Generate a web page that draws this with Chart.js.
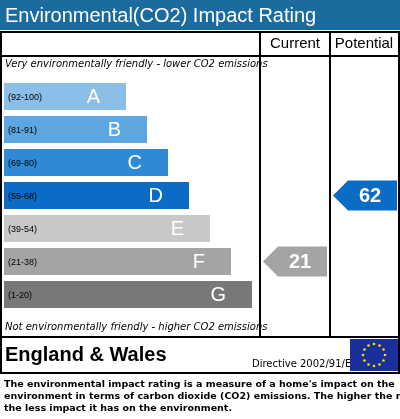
<!DOCTYPE html>
<html>
<head>
<meta charset="utf-8">
<script src="https://cdn.jsdelivr.net/npm/chart.js@4"></script>
<style>
  html, body { margin: 0; padding: 0; background: #fff; }
  #wrap { width: 400px; height: 419px; }
</style>
</head>
<body>
<div id="wrap"><canvas id="epc"></canvas></div>
<script>
// bands, top (best) to bottom (worst)
const bandLetters = ["A", "B", "C", "D", "E", "F", "G"];
const bandRanges = ["(92-100)", "(81-91)", "(69-80)", "(55-68)", "(39-54)", "(21-38)", "(1-20)"];
const bandLengths = [122, 143, 164, 185, 206, 227, 248];
const bandColors = ["#8cbfe8", "#5ea6e0", "#2f8ad6", "#0a6cc4", "#c8c8c8", "#a4a4a4", "#787878"];
const currentRating = 21;
const potentialRating = 62;

function bandIndex(r) {
  const lows = [92, 81, 69, 55, 39, 21, 1];
  return lows.findIndex(l => r >= l);
}

const epcDecor = {
  id: "epcDecor",
  beforeDraw(chart) {
    const c = chart.ctx;
    c.save();
    c.fillStyle = "#fff";
    c.fillRect(0, 0, 400, 419);
    // title bar
    c.fillStyle = "#1b6b9e";
    c.fillRect(0, 0, 400, 30);
    c.fillStyle = "#fff";
    c.font = "20px Arial, 'Liberation Sans'";
    c.textBaseline = "middle";
    c.fillText("Environmental(CO2) Impact Rating", 5, 16);
    // table frame
    c.strokeStyle = "#000";
    c.lineWidth = 2;
    c.strokeRect(1, 32, 398, 341);
    c.beginPath();
    c.moveTo(260, 32); c.lineTo(260, 337);
    c.moveTo(330, 32); c.lineTo(330, 337);
    c.moveTo(0, 56); c.lineTo(400, 56);
    c.moveTo(0, 337); c.lineTo(400, 337);
    c.stroke();
    c.fillStyle = "#000";
    c.font = "15px Arial, 'Liberation Sans'";
    c.textAlign = "center";
    c.fillText("Current", 295, 44);
    c.fillText("Potential", 364, 44);
    c.textAlign = "left";
    c.font = "italic 10px Verdana, 'DejaVu Sans'";
    c.fillText("Very environmentally friendly - lower CO2 emissions", 5, 64);
    c.fillText("Not environmentally friendly - higher CO2 emissions", 5, 327);
    c.font = "bold 20px Arial, 'Liberation Sans'";
    c.fillText("England & Wales", 5, 355);
    c.font = "10px Verdana, 'DejaVu Sans'";
    c.fillText("Directive 2002/91/EC", 252, 364);
    // EU flag
    c.fillStyle = "#1a2e9c";
    c.fillRect(350, 339, 48, 32);
    c.fillStyle = "#ffde00";
    for (let i = 0; i < 12; i++) {
      const a = i * Math.PI / 6;
      c.beginPath();
      c.arc(374 + 11 * Math.cos(a), 355 + 11 * Math.sin(a), 1.3, 0, 2 * Math.PI);
      c.fill();
    }
    // footnote
    c.fillStyle = "#000";
    c.font = "bold 9.5px Verdana, 'DejaVu Sans'";
    c.fillText("The environmental impact rating is a measure of a home's impact on the", 4, 385);
    c.fillText("environment in terms of carbon dioxide (CO2) emissions. The higher the rating", 4, 397);
    c.fillText("the less impact it has on the environment.", 4, 409);
    c.restore();
  },
  afterDatasetsDraw(chart) {
    const c = chart.ctx;
    const y = chart.scales.y;
    const x = chart.scales.x;
    c.save();
    c.textBaseline = "middle";
    bandLetters.forEach((L, i) => {
      const py = y.getPixelForValue(i);
      c.fillStyle = "#000";
      c.font = "9px Arial, 'Liberation Sans'";
      c.textAlign = "left";
      c.fillText(bandRanges[i], 8, py + 1);
      c.fillStyle = "#fff";
      c.font = "20px Arial, 'Liberation Sans'";
      c.textAlign = "right";
      c.fillText(L, x.getPixelForValue(bandLengths[i]) - 26, py + 1);
    });
    const arrow = (val, left, right) => {
      const i = bandIndex(val);
      const py = y.getPixelForValue(i);
      c.fillStyle = bandColors[i];
      c.beginPath();
      c.moveTo(left, py);
      c.lineTo(left + 15, py - 15);
      c.lineTo(right, py - 15);
      c.lineTo(right, py + 15);
      c.lineTo(left + 15, py + 15);
      c.closePath();
      c.fill();
      c.fillStyle = "#fff";
      c.font = "bold 20px Arial, 'Liberation Sans'";
      c.textAlign = "center";
      c.fillText(String(val), (left + right) / 2 + 5, py + 1);
    };
    arrow(currentRating, 263, 327);
    arrow(potentialRating, 333, 397);
    c.restore();
  }
};

new Chart(document.getElementById("epc"), {
  type: "bar",
  data: {
    labels: bandLetters,
    datasets: [{
      data: bandLengths,
      backgroundColor: bandColors,
      borderWidth: 0,
      barPercentage: 27 / 33,
      categoryPercentage: 1
    }]
  },
  options: {
    indexAxis: "y",
    responsive: true,
    maintainAspectRatio: false,
    animation: false,
    layout: { padding: { left: 4, right: 144, top: 80, bottom: 108 } },
    plugins: { legend: { display: false }, tooltip: { enabled: false } },
    scales: {
      x: { min: 0, max: 252, display: false },
      y: { display: false }
    }
  },
  plugins: [epcDecor]
});
</script>
</body>
</html>
